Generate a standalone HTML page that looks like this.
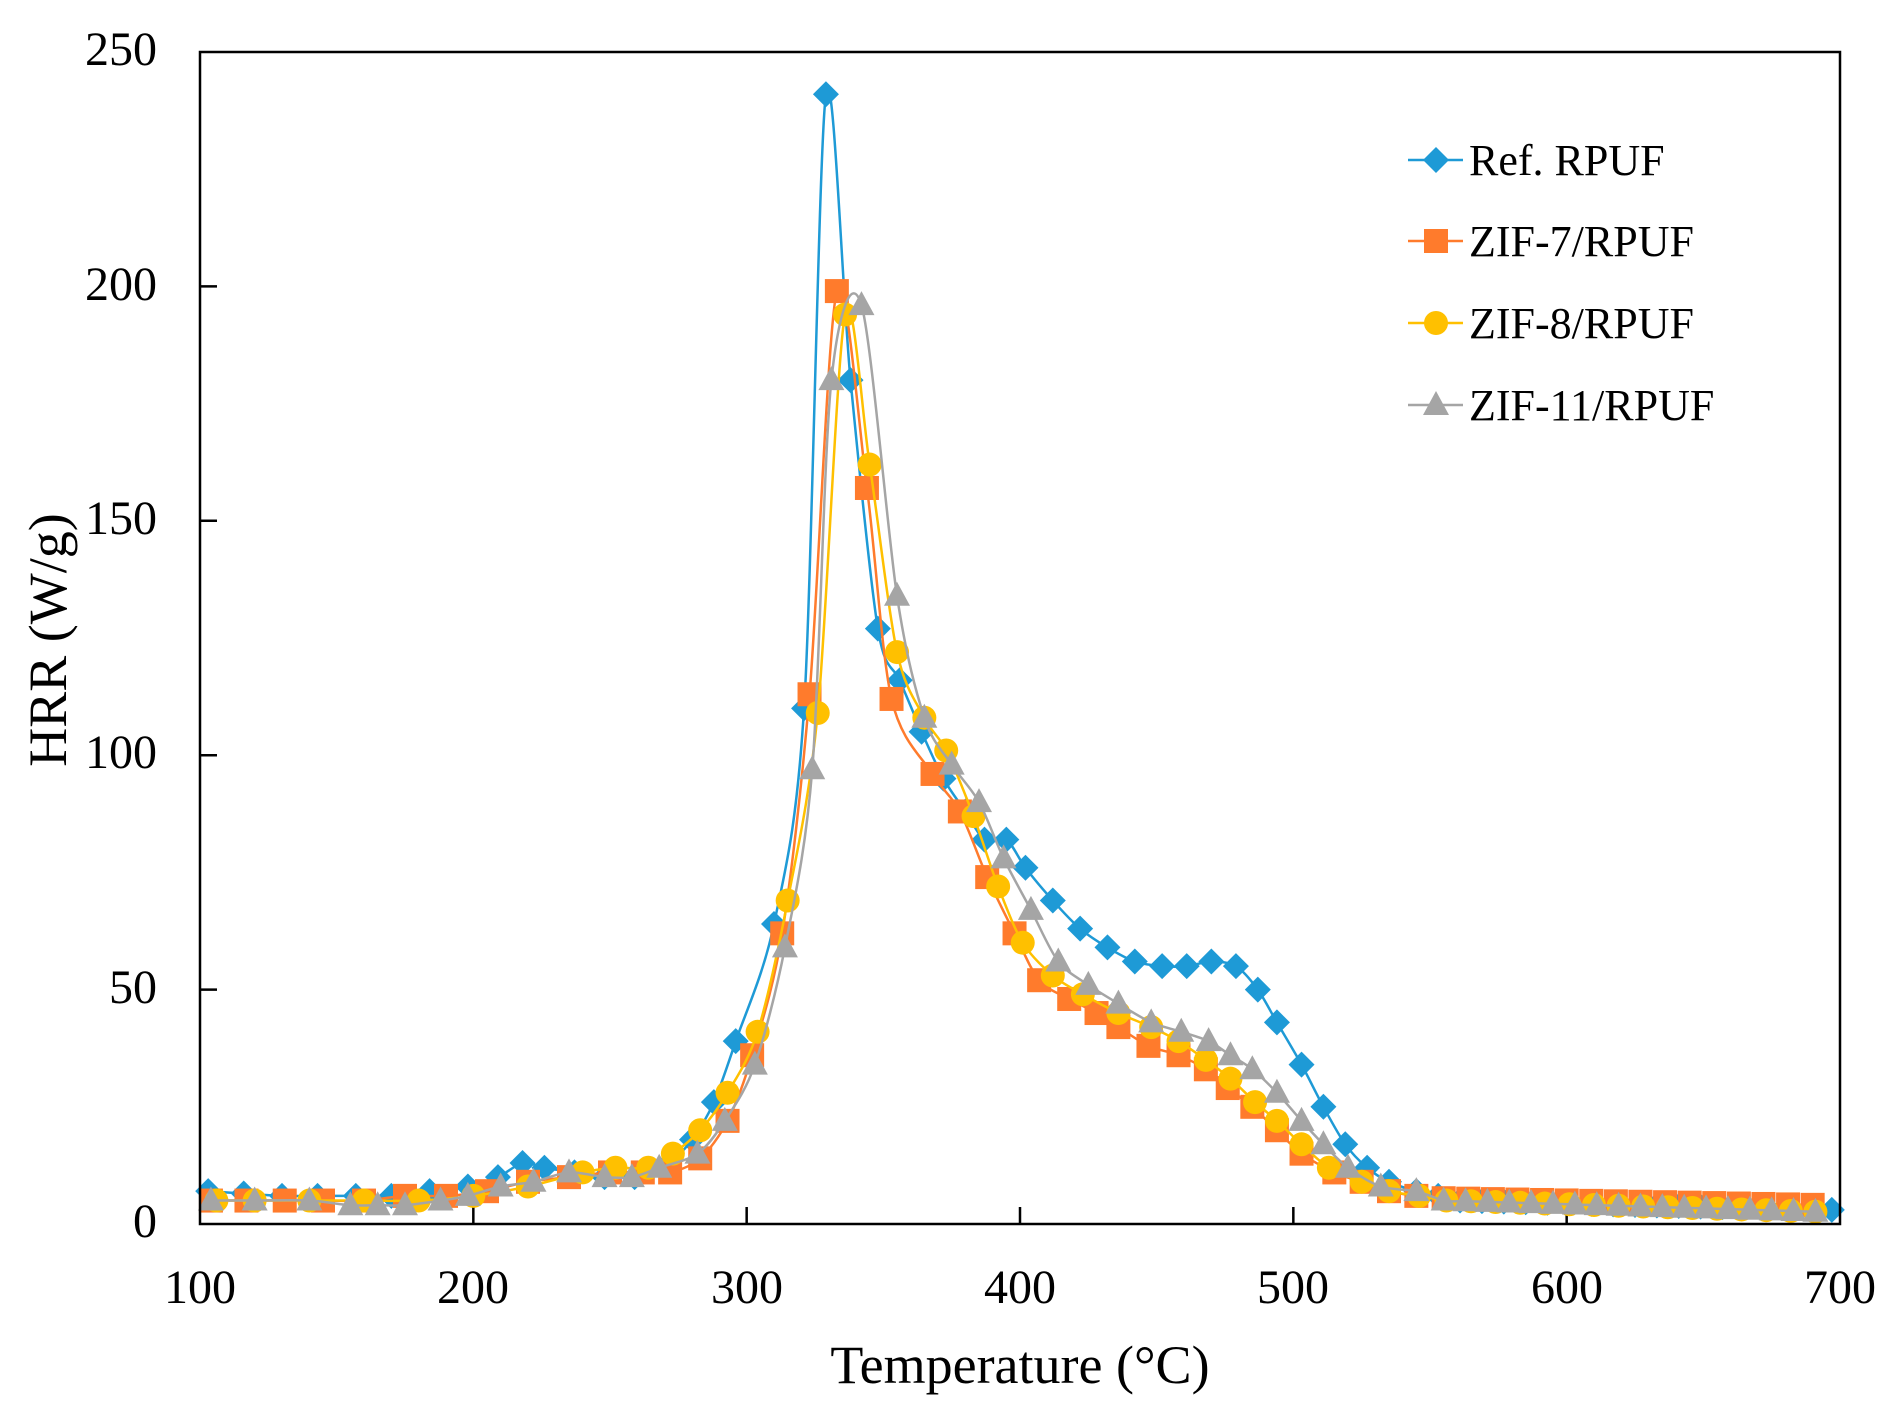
<!DOCTYPE html>
<html><head><meta charset="utf-8"><style>html,body{margin:0;padding:0;background:#fff}svg{display:block}</style></head>
<body>
<svg id="c" xmlns="http://www.w3.org/2000/svg" width="1894" height="1417" viewBox="0 0 1894 1417" font-family="'Liberation Serif', serif">
<rect width="1894" height="1417" fill="#fff"/>
<g id="ticks"></g>
<g id="series"></g>
<rect x="200" y="52" width="1640" height="1172" fill="none" stroke="#000" stroke-width="2.5"/>
<g font-size="48" fill="#000">
<text x="157" y="65" text-anchor="end">250</text>
<text x="157" y="300" text-anchor="end">200</text>
<text x="157" y="534" text-anchor="end">150</text>
<text x="157" y="768" text-anchor="end">100</text>
<text x="157" y="1003" text-anchor="end">50</text>
<text x="157" y="1237" text-anchor="end">0</text>
<text x="200" y="1303" text-anchor="middle">100</text>
<text x="473" y="1303" text-anchor="middle">200</text>
<text x="747" y="1303" text-anchor="middle">300</text>
<text x="1020" y="1303" text-anchor="middle">400</text>
<text x="1293" y="1303" text-anchor="middle">500</text>
<text x="1567" y="1303" text-anchor="middle">600</text>
<text x="1840" y="1303" text-anchor="middle">700</text>
</g>
<text x="1020" y="1383" text-anchor="middle" font-size="54">Temperature (°C)</text>
<text transform="translate(66,640) rotate(-90)" text-anchor="middle" font-size="54">HRR (W/g)</text>
<g id="legend" font-size="44"></g>
</svg>
<script>
const X=t=>200+(t-100)*1640/600, Y=v=>1224-v*1172/250;
function tail(a,b,step,v0,v1){const r=[];for(let t=a;t<=b;t+=step)r.push([t,v0+(v1-v0)*(t-a)/(b-a)]);return r;}
const S=[
{c:"#1E9AD6",m:"d",d:[[103,7],[116,6.5],[130,6],[143,6],[157,6],[170,6],[184,7],[198,8],[209,10],[218,13],[226,12],[237,11],[248,10],[259,10],[270,12],[280,18],[288,26],[296,39],[310,64],[321,110],[329,241],[338,180],[348,127],[356,116],[364,105],[372,95],[380,88],[387,82],[395,82],[402,76],[412,69],[422,63],[432,59],[442,56],[452,55],[461,55],[470,56],[479,55],[487,50],[494,43],[503,34],[511,25],[519,17],[527,12],[535,9],[545,7],[553,6]].concat(tail(561,698,8,5,3))},
{c:"#FF7B2C",m:"s",d:[[104,5],[117,5],[131,5],[145,5],[160,5],[175,6],[190,6],[205,7],[220,9],[235,10],[250,11],[262,11],[272,11],[283,14],[293,22],[302,36],[313,62],[323,113],[333,199],[344,157],[353,112],[368,96],[378,88],[388,74],[398,62],[407,52],[418,48],[428,45],[436,42],[447,38],[458,36],[468,33],[476,29],[485,25],[494,20],[503,15],[515,11],[525,9],[535,7],[545,6]].concat(tail(555,698,9,5.5,4))},
{c:"#FFC000",m:"c",d:[[106,5],[120,5],[140,5],[160,5],[180,5],[200,6],[220,8],[240,11],[252,12],[264,12],[273,15],[283,20],[293,28],[304,41],[315,69],[326,109],[336,194],[345,162],[355,122],[365,108],[373,101],[383,87],[392,72],[401,60],[412,53],[423,49],[436,45],[448,42],[458,39],[468,35],[477,31],[486,26],[494,22],[503,17],[513,12],[525,9],[535,7],[546,6]].concat(tail(556,698,9,5,2.5))},
{c:"#A5A5A5",m:"t",d:[[104,5],[120,5],[140,5],[155,4],[165,4],[175,4],[188,5],[198,6],[210,8],[222,9],[235,11],[248,10],[258,10],[268,12],[282,15],[292,22],[303,34],[314,59],[324,97],[331,180],[342,196],[355,134],[365,108],[375,98],[385,90],[394,78],[404,67],[414,56],[425,51],[436,47],[448,43],[459,41],[469,39],[477,36],[485,33],[494,28],[503,22],[511,17],[520,12],[532,8],[545,7]].concat(tail(555,698,8,5,2.5))}];
function mk(m,x,y,c){
 if(m=="d")return `<polygon points="${x},${y-13} ${x+13},${y} ${x},${y+13} ${x-13},${y}" fill="${c}"/>`;
 if(m=="s")return `<rect x="${x-12}" y="${y-12}" width="24" height="24" fill="${c}"/>`;
 if(m=="c")return `<circle cx="${x}" cy="${y}" r="12" fill="${c}"/>`;
 return `<polygon points="${x},${y-14} ${x+13},${y+10} ${x-13},${y+10}" fill="${c}"/>`;
}
function smooth(pts){
 let d=`M${pts[0][0]},${pts[0][1]}`;
 for(let i=0;i<pts.length-1;i++){
  const p0=pts[Math.max(0,i-1)],p1=pts[i],p2=pts[i+1],p3=pts[Math.min(pts.length-1,i+2)];
  const k=0.15;
  d+=` C${p1[0]+(p2[0]-p0[0])*k},${p1[1]+(p2[1]-p0[1])*k} ${p2[0]-(p3[0]-p1[0])*k},${p2[1]-(p3[1]-p1[1])*k} ${p2[0]},${p2[1]}`;
 }
 return d;
}
let h="";
for(const s of S){
 const P=s.d.map(p=>[X(p[0]),Y(p[1])]);
 h+=`<path fill="none" stroke="${s.c}" stroke-width="2.5" d="${smooth(P)}"/>`;
 for(const p of P)h+=mk(s.m,p[0],p[1],s.c);
}
document.getElementById("series").innerHTML=h;
let t="";
for(let v=50;v<250;v+=50)t+=`<line x1="200" x2="217" y1="${Y(v)}" y2="${Y(v)}" stroke="#000" stroke-width="2.5"/>`;
for(let x=200;x<700;x+=100)t+=`<line x1="${X(x)}" x2="${X(x)}" y1="1224" y2="1207" stroke="#000" stroke-width="2.5"/>`;
document.getElementById("ticks").innerHTML=t;
const L=["Ref. RPUF","ZIF-7/RPUF","ZIF-8/RPUF","ZIF-11/RPUF"],LY=[160,241,323,405];
let l="";
S.forEach((s,i)=>{l+=`<line x1="1408" x2="1463" y1="${LY[i]}" y2="${LY[i]}" stroke="${s.c}" stroke-width="2.5"/>`+mk(s.m,1436,LY[i],s.c)+`<text x="1469" y="${LY[i]+15}">${L[i]}</text>`;});
document.getElementById("legend").innerHTML=l;
</script>
</body></html>
